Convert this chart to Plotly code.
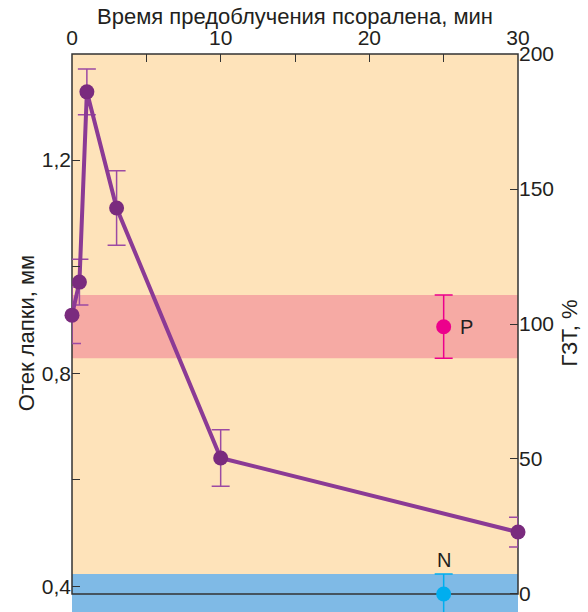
import plotly.graph_objects as go

# ---- data ----
time_min = [0, 0.5, 1, 3, 10, 30]
edema_mm = [0.909, 0.971, 1.328, 1.110, 0.641, 0.502]
edema_err = [0.053, 0.043, 0.043, 0.070, 0.053, 0.028]

ctrl_names = ["P", "N"]
ctrl_time = [25, 25]
ctrl_pct = [99, 0]
ctrl_err = [11.7, 7.4]

x_ticks = [0, 5, 10, 15, 20, 25, 30]
x_ticktext = ["0", "", "10", "", "20", "", "30"]
yl_ticks = [0.4, 0.6, 0.8, 1.0, 1.2]
yl_ticktext = ["0,4", "", "0,8", "", "1,2"]
yr_ticks = [0, 50, 100, 150, 200]

x_title = "Время предоблучения псоралена, мин"
yl_title = "Отек лапки, мм"
yr_title = "ГЗТ, %"

# ---- style ----
FONT = "Liberation Sans, Arial, sans-serif"
TXT = "#231F20"
PEACH = "#FEE3BA"
PINK_BAND = "#F6AAA4"
BLUE_BAND = "#7FBAE6"
PURPLE_LINE = "#8B3A95"
PURPLE_MARK = "#7A2B7E"
PURPLE_ERR = "#9C4AA3"
P_COL = "#EC008C"
N_COL = "#00AEEF"

yl_range = [0.352, 1.399]
yr_range = [-6.67, 200]

fig = go.Figure()

fig.add_trace(go.Scatter(
    x=time_min, y=edema_mm, mode="lines+markers", yaxis="y",
    line=dict(color=PURPLE_LINE, width=4),
    marker=dict(color=PURPLE_MARK, size=15),
    error_y=dict(type="data", array=edema_err, color=PURPLE_ERR, thickness=1.5, width=9),
    cliponaxis=False, showlegend=False,
))

for name, t, v, e, c in zip(ctrl_names, ctrl_time, ctrl_pct, ctrl_err, [P_COL, N_COL]):
    fig.add_trace(go.Scatter(
        x=[t], y=[v], mode="markers", yaxis="y2",
        marker=dict(color=c, size=15),
        error_y=dict(type="data", array=[e], color=c, thickness=1.5, width=9),
        cliponaxis=False, showlegend=False,
    ))
    # band = mean +- SD
    fig.add_shape(type="rect", xref="paper", x0=0, x1=1, yref="y2",
                  y0=v - e, y1=v + e, fillcolor=PINK_BAND if name == "P" else BLUE_BAND,
                  line_width=0, layer="below")

# label annotations
fig.add_annotation(x=ctrl_time[0], y=ctrl_pct[0], yref="y2", text="P", showarrow=False,
                   xanchor="left", xshift=14, font=dict(size=20, color=TXT, family=FONT))
fig.add_annotation(x=ctrl_time[1], y=ctrl_pct[1] + ctrl_err[1], yref="y2", text="N", showarrow=False,
                   yanchor="bottom", yshift=1, font=dict(size=20, color=TXT, family=FONT))

# top axis title
fig.add_annotation(x=0.5, y=1, xref="paper", yref="paper", text=x_title, showarrow=False,
                   yanchor="middle", yshift=38, font=dict(size=22, color=TXT, family=FONT))

# frame
y0_frac = (0 - yr_range[0]) / (yr_range[1] - yr_range[0])
fig.add_shape(type="rect", xref="paper", yref="paper", x0=0, x1=1, y0=y0_frac, y1=1,
              line=dict(color="#333333", width=1.5), fillcolor="rgba(0,0,0,0)", layer="below")

fig.update_layout(
    width=588, height=612,
    margin=dict(l=72, r=70, t=54, b=0),
    plot_bgcolor=PEACH, paper_bgcolor="white",
    font=dict(family=FONT, color=TXT, size=21),
    xaxis=dict(side="top", range=[0, 30], tickvals=x_ticks, ticktext=x_ticktext,
               ticks="inside", ticklen=8, tickcolor="#333333", tickwidth=1,
               showgrid=False, zeroline=False, showline=False, automargin=False,
               tickfont=dict(size=21), ticklabelstandoff=4),
    yaxis=dict(range=yl_range, tickvals=yl_ticks, ticktext=yl_ticktext,
               ticks="inside", ticklen=8, tickcolor="#333333", tickwidth=1,
               showgrid=False, zeroline=False, showline=False, automargin=False,
               tickfont=dict(size=21),
               title=dict(text=yl_title, font=dict(size=22), standoff=1)),
    yaxis2=dict(overlaying="y", side="right", range=yr_range, tickvals=yr_ticks,
                ticks="inside", ticklen=8, tickcolor="#333333", tickwidth=1,
                showgrid=False, zeroline=False, showline=False, automargin=False,
                tickfont=dict(size=21),
                title=dict(text=yr_title, font=dict(size=22), standoff=8)),
)

fig.write_html("out.html", config={"displayModeBar": False},
               post_script="document.body.style.margin='0px';")
